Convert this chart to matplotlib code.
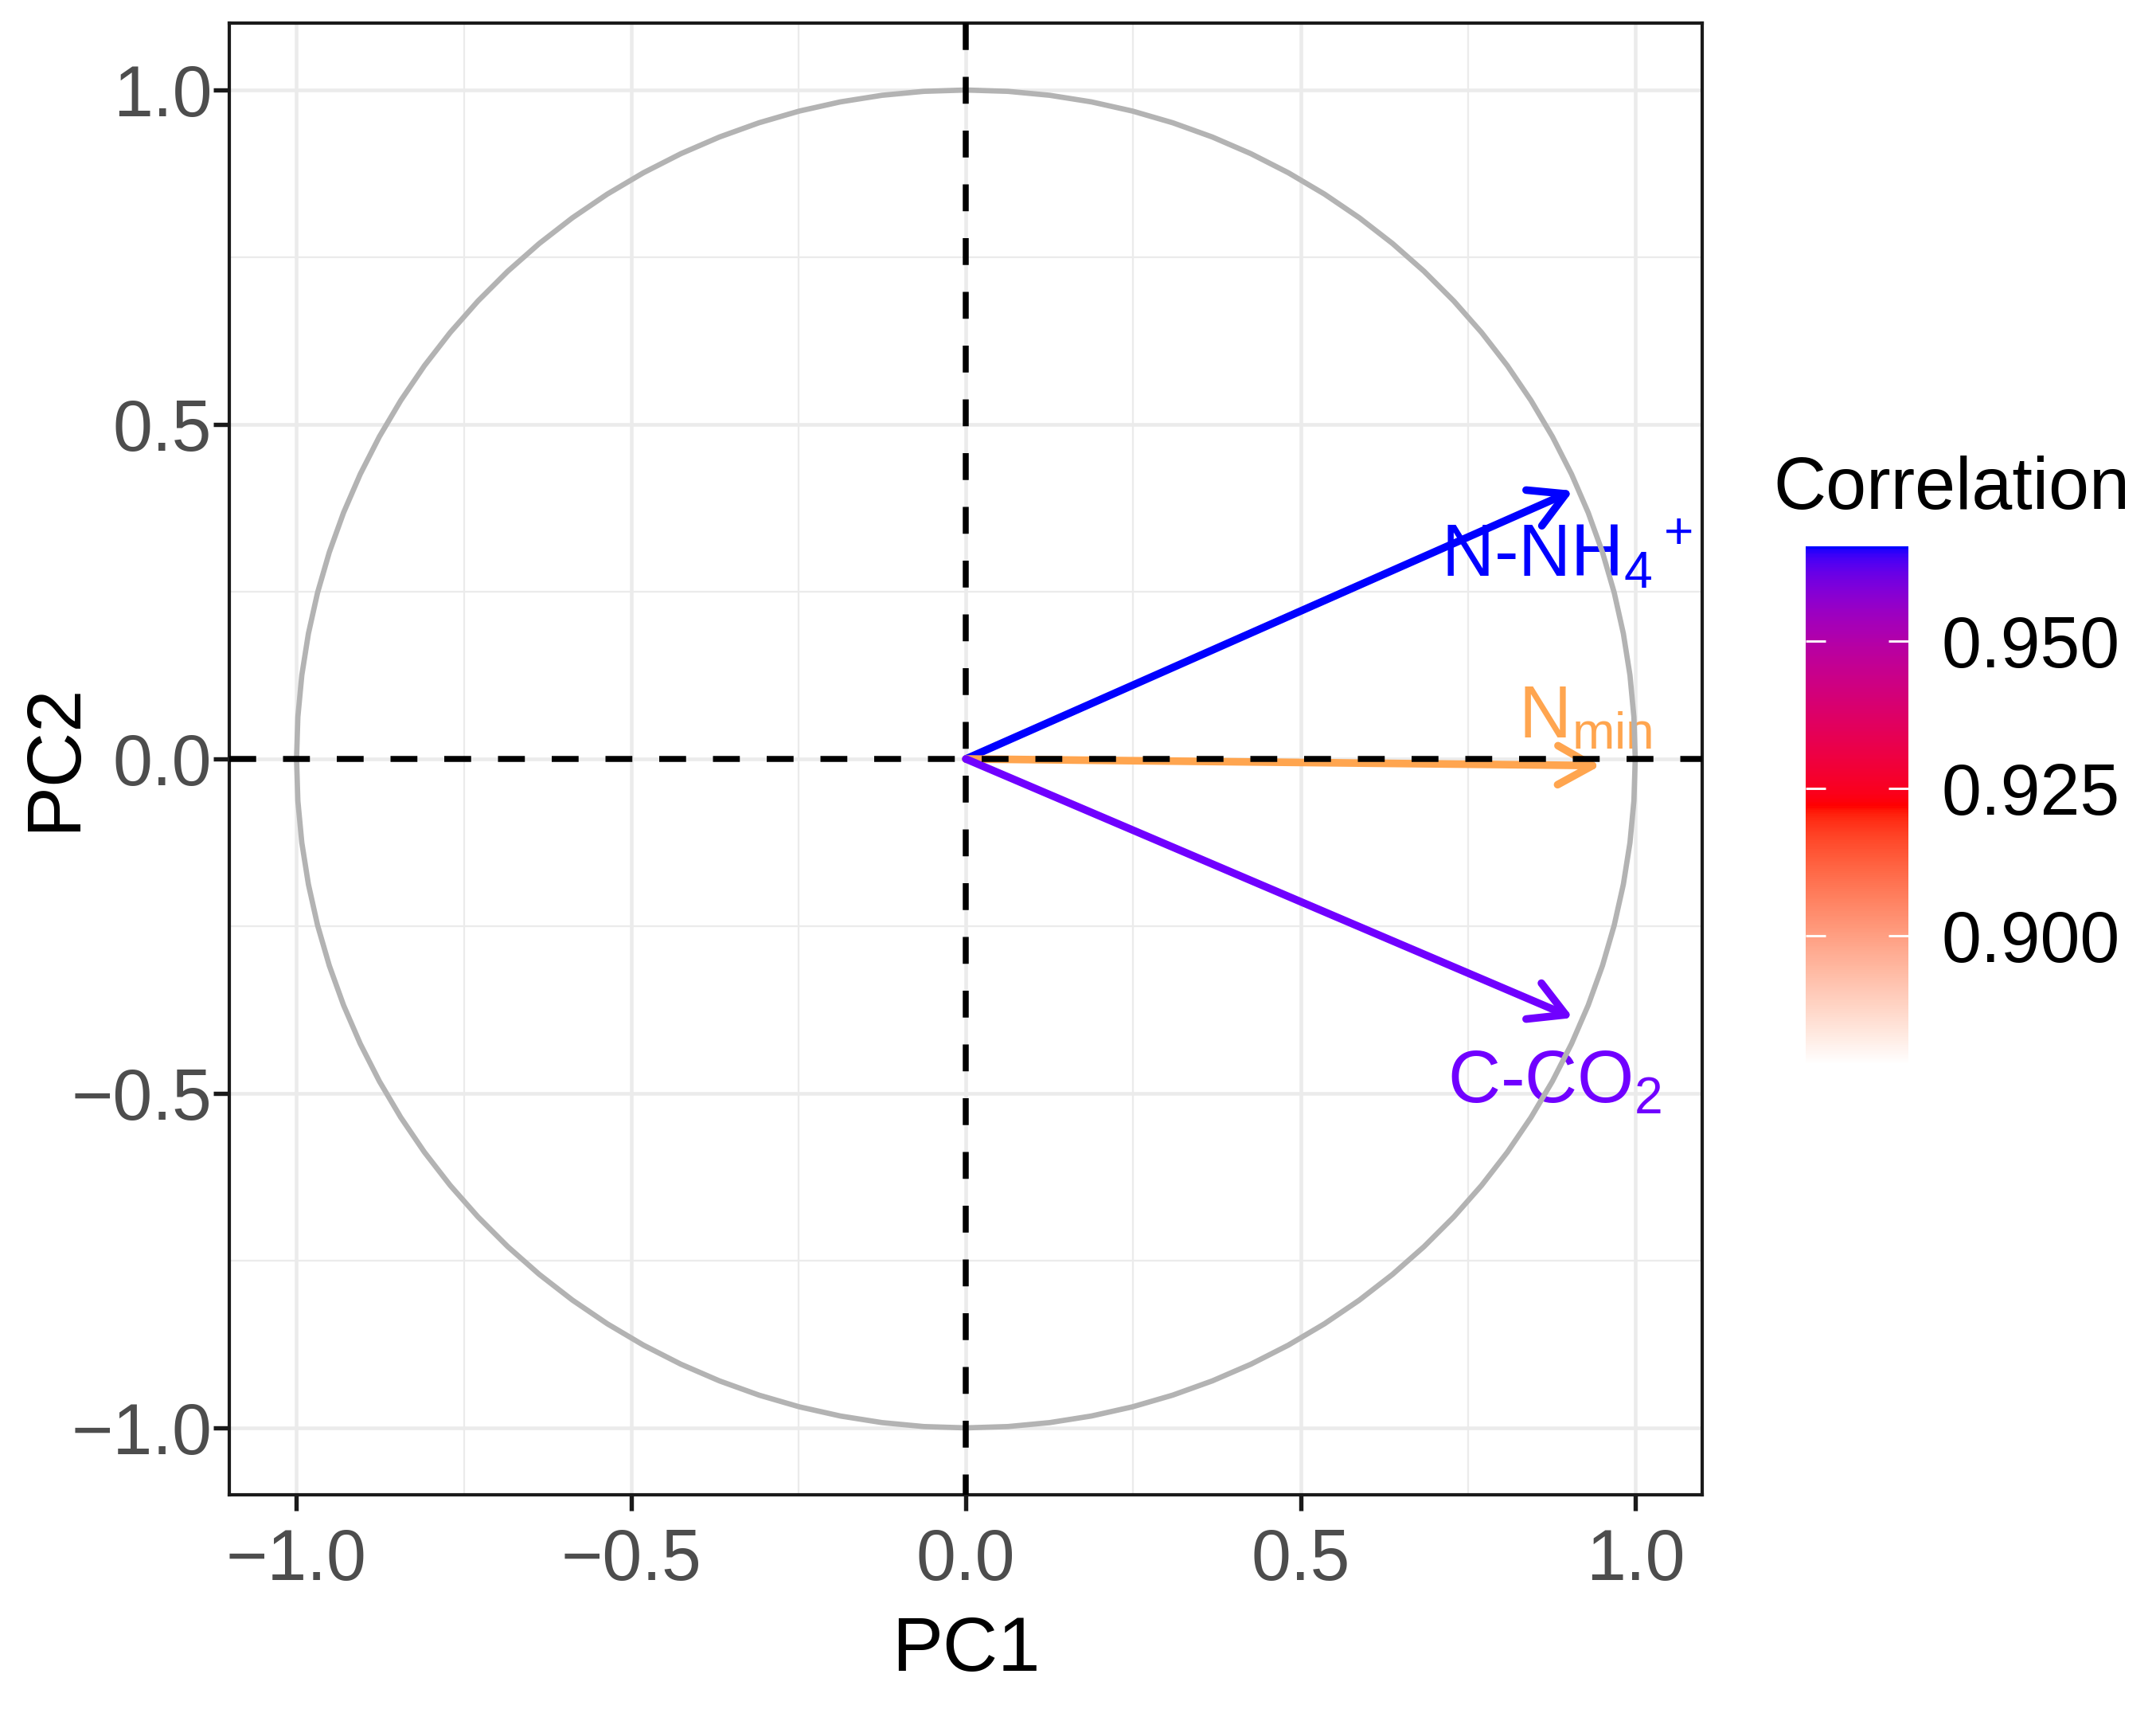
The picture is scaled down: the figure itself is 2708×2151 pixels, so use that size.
import numpy as np
import matplotlib
matplotlib.use("Agg")
import matplotlib.pyplot as plt
from matplotlib.colors import ListedColormap, Normalize, to_rgb
from matplotlib.cm import ScalarMappable

plt.rcParams['font.family'] = ['Liberation Sans', 'DejaVu Sans']
plt.rcParams['mathtext.fontset'] = 'custom'
plt.rcParams['mathtext.rm'] = 'Liberation Sans'
plt.rcParams['mathtext.it'] = 'Liberation Sans'
plt.rcParams['mathtext.default'] = 'regular'

# variable loadings on PC1 / PC2
var_names = [r'N-NH$_4$$^+$', r'N$_{min}$', r'C-CO$_2$']
pc1 = [0.907, 0.948, 0.907]
pc2 = [0.401, -0.010, -0.387]
arrow_colors = ['#0000FF', '#FFA54F', '#7000FF']
label_x = [0.898, 0.925, 0.880]
label_y = [0.305, 0.060, -0.485]

# colour scale of the legend
cbar_limits = [0.878, 0.966]
cbar_ticks = [0.900, 0.925, 0.950]
cbar_colors = ['white', 'red', 'blue']

axis_ticks = [-1.0, -0.5, 0.0, 0.5, 1.0]
minor_ticks = [-0.75, -0.25, 0.25, 0.75]


# ggplot-like colour ramp, interpolated in CIE Lab
WHITE_D65 = np.array([0.95047, 1.0, 1.08883])
M_RGB2XYZ = np.array([[0.4124564, 0.3575761, 0.1804375],
                      [0.2126729, 0.7151522, 0.0721750],
                      [0.0193339, 0.1191920, 0.9503041]])


def rgb_to_lab(rgb):
    c = np.asarray(rgb, float)
    lin = np.where(c <= 0.04045, c / 12.92, ((c + 0.055) / 1.055) ** 2.4)
    xyz = M_RGB2XYZ @ lin / WHITE_D65
    d = 6 / 29
    f = np.where(xyz > d ** 3, np.cbrt(xyz), xyz / (3 * d * d) + 4 / 29)
    return np.array([116 * f[1] - 16, 500 * (f[0] - f[1]), 200 * (f[1] - f[2])])


def lab_to_rgb(lab):
    L, a, b = lab
    fy = (L + 16) / 116
    fx = fy + a / 500
    fz = fy - b / 200
    d = 6 / 29
    f = np.array([fx, fy, fz])
    xyz = np.where(f > d, f ** 3, 3 * d * d * (f - 4 / 29)) * WHITE_D65
    lin = np.linalg.solve(M_RGB2XYZ, xyz)
    lin = np.clip(lin, 0, 1)
    c = np.where(lin <= 0.0031308, 12.92 * lin, 1.055 * lin ** (1 / 2.4) - 0.055)
    return np.clip(c, 0, 1)


def lab_ramp(colors, n=256):
    labs = [rgb_to_lab(to_rgb(c)) for c in colors]
    stops = np.linspace(0, 1, len(colors))
    out = []
    for t in np.linspace(0, 1, n):
        lab = [np.interp(t, stops, [l[k] for l in labs]) for k in range(3)]
        out.append(lab_to_rgb(lab))
    return ListedColormap(out)


fig = plt.figure(figsize=(2708 / 300, 2151 / 300), dpi=300)
ax = fig.add_axes([0.1065, 0.1274, 0.683, 0.8591])

ax.set_xlim(-1.1, 1.1)
ax.set_ylim(-1.1, 1.1)
ax.set_xticks(axis_ticks)
ax.set_yticks(axis_ticks)
ax.set_xticks(minor_ticks, minor=True)
ax.set_yticks(minor_ticks, minor=True)
ax.grid(which='major', color='#EBEBEB', linewidth=1.1, zorder=0)
ax.grid(which='minor', color='#EBEBEB', linewidth=0.55, zorder=0)
ax.set_axisbelow(True)
ax.tick_params(which='minor', length=0)
ax.tick_params(which='major', length=4.8, width=1.3, color='#1A1A1A',
               labelsize=21.5, labelcolor='#4D4D4D')
ax.tick_params(axis='x', pad=5)
ax.tick_params(axis='y', pad=0.5)
for sp in ax.spines.values():
    sp.set_linewidth(1.0)
    sp.set_color('#1A1A1A')

# arrows and labels
for i in range(len(var_names)):
    ax.annotate('', xy=(pc1[i], pc2[i]), xytext=(0, 0),
                arrowprops=dict(arrowstyle='->,head_length=0.75,head_width=0.42',
                                mutation_scale=14, color=arrow_colors[i],
                                lw=2.3, shrinkA=0, shrinkB=0),
                zorder=3)
    ax.text(label_x[i], label_y[i], var_names[i], color=arrow_colors[i],
            fontsize=22, ha='center', va='center', zorder=4)

# correlation circle
theta = np.linspace(0, 2 * np.pi, 101)
ax.plot(np.cos(theta), np.sin(theta), color='#B3B3B3', lw=1.6, zorder=5)

# reference lines through the origin
x0, x1 = ax.get_xlim()
y0, y1 = ax.get_ylim()
ax.hlines(0, x0, x1, color='black', lw=1.8, linestyles=[(0, (4.5, 4.5))], zorder=6)
ax.vlines(0, y1, y0, color='black', lw=1.8, linestyles=[(0, (4.5, 4.5))], zorder=6)

ax.set_xlabel('PC1', fontsize=23, labelpad=6)
fig.text(0.0255, 0.558, 'PC2', fontsize=23, rotation=90,
         ha='center', va='center')

# colour bar
cmap = lab_ramp(cbar_colors)
sm = ScalarMappable(norm=Normalize(*cbar_limits), cmap=cmap)
cax = fig.add_axes([0.8375, 0.378, 0.0476, 0.303])
cb = fig.colorbar(sm, cax=cax, ticks=cbar_ticks)
cb.outline.set_visible(False)
cb.ax.yaxis.set_ticks_position('both')
cb.ax.tick_params(direction='in', color='white', length=6, width=0.7,
                  labelsize=21.5, labelcolor='black', pad=10,
                  left=True, right=True, labelleft=False, labelright=True)
cb.ax.set_yticklabels(['%.3f' % t for t in cbar_ticks])
fig.text(0.8227, 0.703, 'Correlation', fontsize=22, ha='left', va='baseline')

plt.savefig('out.png', dpi=300)
plt.close()
